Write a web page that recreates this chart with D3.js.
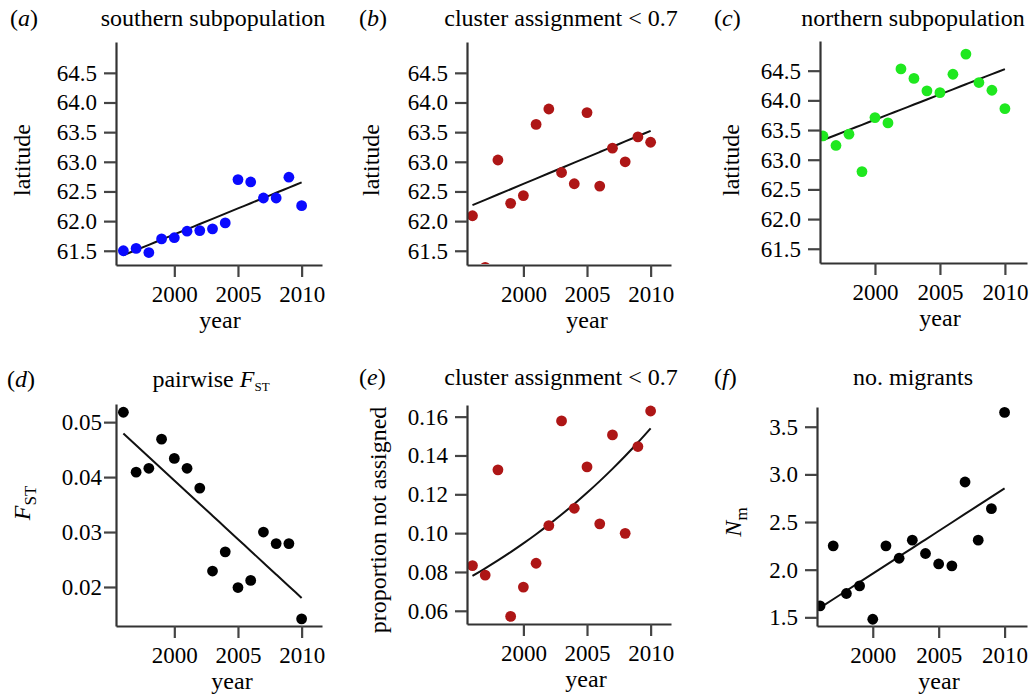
<!DOCTYPE html>
<html>
<head>
<meta charset="utf-8">
<script src="https://cdn.jsdelivr.net/npm/d3@7"></script>
</head>
<body style="margin:0; background:#fff">
<div id="chart"></div>
<script>
// survey years (same for every panel)
var years = [1996, 1997, 1998, 1999, 2000, 2001, 2002, 2003, 2004, 2005, 2006, 2007, 2008, 2009, 2010];

// (a) southern subpopulation, mean latitude
var southernLat = [61.50, 61.54, 61.47, 61.70, 61.72, 61.83, 61.84, 61.87, 61.97, 62.70, 62.66, 62.39, 62.39, 62.74, 62.26];
// (b) cluster assignment < 0.7, mean latitude
var clusterLat = [62.09, 61.22, 63.03, 62.30, 62.43, 63.63, 63.89, 62.82, 62.63, 63.83, 62.59, 63.23, 63.00, 63.42, 63.33];
// (c) northern subpopulation, mean latitude
var northernLat = [63.40, 63.24, 63.43, 62.80, 63.71, 63.62, 64.53, 64.37, 64.16, 64.13, 64.44, 64.78, 64.30, 64.17, 63.86];
// (d) pairwise Fst
var pairwiseFst = [0.0518, 0.0409, 0.0416, 0.0469, 0.0434, 0.0416, 0.0380, 0.0229, 0.0264, 0.0199, 0.0212, 0.0300, 0.0279, 0.0279, 0.0142];
// (e) proportion not assigned
var propNotAssigned = [0.0833, 0.0784, 0.1326, 0.0571, 0.0722, 0.0845, 0.1039, 0.1578, 0.1128, 0.1341, 0.1048, 0.1506, 0.0999, 0.1446, 0.1629];
// (e) fitted curve, values at 1996 and 2010
var propTrendEnds = [0.078, 0.154];
// (f) number of migrants
var noMigrants = [1.62, 2.25, 1.75, 1.83, 1.48, 2.25, 2.12, 2.31, 2.17, 2.06, 2.04, 2.92, 2.31, 2.64, 3.65];

// tick labels
var yearTicks = [2000, 2005, 2010];
var latTicks = [61.5, 62.0, 62.5, 63.0, 63.5, 64.0, 64.5];
var fstTicks = [0.02, 0.03, 0.04, 0.05];
var propTicks = [0.06, 0.08, 0.10, 0.12, 0.14, 0.16];
var nmTicks = [1.5, 2.0, 2.5, 3.0, 3.5];

var serif = "'Liberation Serif'";

var svg = d3.select("#chart")
    .append("svg")
        .attr("width", 1029)
        .attr("height", 695);

// least squares line through the points
function fitLine(xs, ys) {
    var mx = d3.mean(xs), my = d3.mean(ys);
    var sxy = d3.sum(xs, function(x, i) { return (x - mx) * (ys[i] - my); });
    var sxx = d3.sum(xs, function(x) { return (x - mx) * (x - mx); });
    var b = sxy / sxx, a = my - b * mx;
    return xs.map(function(x) { return [x, a + b * x]; });
}
// exponential curve through the two end values
function fitExp(xs, ends) {
    var x0 = xs[0], x1 = xs[xs.length - 1];
    var k = Math.log(ends[1] / ends[0]) / (x1 - x0);
    return xs.map(function(x) { return [x, ends[0] * Math.exp(k * (x - x0))]; });
}

var panels = [
    {id: "a", title: [{t: "southern subpopulation"}], values: southernLat, ticks: latTicks, fmt: ".1f", color: "#0a0aff", pad: 7,
     box: {l: 116, r: 322, t: 42, b: 265}, xDom: [1995.42, 2011.6], yDom: [61.26, 65.02],
     letterX: 10, titleX: 213, titleY: 26, yLab: [{t: "latitude"}], yLabX: 22, yLabY: 160, xLabX: 220},
    {id: "b", title: [{t: "cluster assignment < 0.7"}], values: clusterLat, ticks: latTicks, fmt: ".1f", color: "#ae1616", pad: 7,
     box: {l: 467, r: 671, t: 42, b: 265}, xDom: [1995.57, 2011.6], yDom: [61.26, 65.02],
     letterX: 359, titleX: 561, titleY: 26, yLab: [{t: "latitude"}], yLabX: 371, yLabY: 160, xLabX: 587},
    {id: "c", title: [{t: "northern subpopulation"}], values: northernLat, ticks: latTicks, fmt: ".1f", color: "#1fe81f", pad: 7,
     box: {l: 820, r: 1027, t: 41, b: 263}, xDom: [1995.77, 2011.7], yDom: [61.26, 65.0],
     letterX: 714, titleX: 913, titleY: 26, yLab: [{t: "latitude"}], yLabX: 731, yLabY: 160, xLabX: 940},
    {id: "d", title: [{t: "pairwise "}, {t: "F", italic: true}, {t: "ST", sub: true, size: 13}], values: pairwiseFst, ticks: fstTicks, fmt: ".2f", color: "#000", pad: 2,
     box: {l: 116, r: 322, t: 404, b: 626}, xDom: [1995.42, 2011.6], yDom: [0.0129, 0.0533],
     letterX: 7, titleX: 211, titleY: 387, yLab: [{t: "F", italic: true}, {t: "ST", sub: true, size: 17}], yLabX: 22, yLabY: 503, xLabX: 232},
    {id: "e", title: [{t: "cluster assignment < 0.7"}], values: propNotAssigned, ticks: propTicks, fmt: ".2f", color: "#ae1616", ends: propTrendEnds, pad: 7,
     box: {l: 467, r: 671, t: 405, b: 624}, xDom: [1995.57, 2011.6], yDom: [0.0532, 0.166],
     letterX: 359, titleX: 561, titleY: 385, yLab: [{t: "proportion not assigned"}], yLabX: 378, yLabY: 520, xLabX: 586},
    {id: "f", title: [{t: "no. migrants"}], values: noMigrants, ticks: nmTicks, fmt: ".1f", color: "#000", pad: 7,
     box: {l: 817, r: 1027, t: 407, b: 626}, xDom: [1995.77, 2011.7], yDom: [1.409, 3.707],
     letterX: 714, titleX: 913, titleY: 385, yLab: [{t: "N", italic: true}, {t: "m", sub: true, size: 17}], yLabX: 733, yLabY: 522, xLabX: 939}
];

// writes rich text (italic / subscript pieces) into a text node
function addParts(textSel, parts) {
    parts.forEach(function(p) {
        var ts = textSel.append("tspan").text(p.t);
        if (p.italic) ts.style("font-style", "italic");
        if (p.sub) ts.attr("font-size", p.size).attr("dy", "0.3em");
    });
}

function serifText(sel, size) {
    return sel.style("font-family", serif).attr("font-size", size).attr("fill", "#000");
}

panels.forEach(function(p) {
    var g = svg.append("g");

    var x = d3.scaleLinear().domain(p.xDom).range([p.box.l, p.box.r]);
    var y = d3.scaleLinear().domain(p.yDom).range([p.box.b, p.box.t]);

    // panel letter
    var letter = serifText(g.append("text"), 24)
        .attr("x", p.letterX)
        .attr("y", p.titleY);
    letter.append("tspan").text("(");
    letter.append("tspan").style("font-style", "italic").text(p.id);
    letter.append("tspan").text(")");

    // Add Title
    var title = serifText(g.append("text"), 24)
        .attr("x", p.titleX)
        .attr("y", p.titleY)
        .attr("text-anchor", "middle");
    addParts(title, p.title);

    // clip for the marks
    g.append("clipPath")
        .attr("id", "clip-" + p.id)
        .append("rect")
            .attr("x", p.box.l)
            .attr("y", p.box.t - 10)
            .attr("width", p.box.r - p.box.l + 10)
            .attr("height", p.box.b - p.box.t + 9);

    // trend line
    var trend = p.ends ? fitExp(years, p.ends) : fitLine(years, p.values);
    g.append("path")
        .datum(trend)
        .attr("fill", "none")
        .attr("stroke", "#111")
        .attr("stroke-width", 2)
        .attr("d", d3.line()
            .x(function(d) { return x(d[0]); })
            .y(function(d) { return y(d[1]); })
            .curve(d3.curveMonotoneX)
        );

    // points
    g.append("g")
        .attr("clip-path", "url(#clip-" + p.id + ")")
        .selectAll("circle")
        .data(years)
        .enter().append("circle")
            .attr("cx", function(d) { return x(d); })
            .attr("cy", function(d, i) { return y(p.values[i]); })
            .attr("r", 5.4)
            .attr("fill", p.color);

    // Add X axis
    var xAxis = g.append("g")
        .attr("transform", "translate(0," + p.box.b + ")")
        .call(d3.axisBottom(x).tickValues(yearTicks).tickFormat(d3.format("d"))
            .tickSize(12).tickSizeOuter(0).tickPadding(9));
    // Add Y axis
    var yAxis = g.append("g")
        .attr("transform", "translate(" + p.box.l + ",0)")
        .call(d3.axisLeft(y).tickValues(p.ticks).tickFormat(d3.format(p.fmt))
            .tickSize(12).tickSizeOuter(0).tickPadding(p.pad));

    [xAxis, yAxis].forEach(function(ax) {
        ax.attr("font-size", 23);
        ax.select(".domain").attr("stroke", "#333").attr("stroke-width", 2.2);
        ax.selectAll(".tick line").attr("stroke", "#444").attr("stroke-width", 2.2);
        serifText(ax.selectAll(".tick text"), 23);
    });

    // x label
    serifText(g.append("text"), 24)
        .attr("x", p.xLabX)
        .attr("y", p.box.b + 63)
        .attr("text-anchor", "middle")
        .text("year");

    // y label
    var yl = serifText(g.append("text"), 24)
        .attr("transform", "translate(" + p.yLabX + "," + p.yLabY + ") rotate(-90)")
        .attr("text-anchor", "middle")
        .attr("dy", "0.35em");
    addParts(yl, p.yLab);
});
</script>
</body>
</html>
